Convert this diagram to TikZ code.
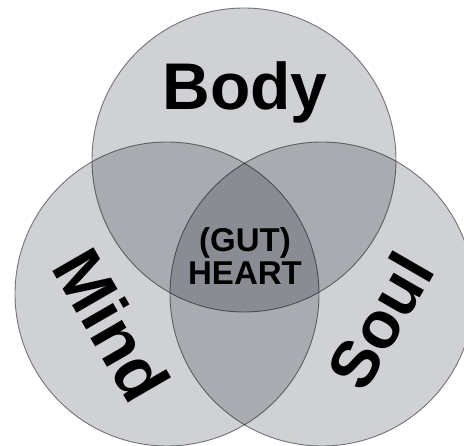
\documentclass[tikz,border=0pt]{standalone}
\usepackage{fontspec}
\setmainfont{Liberation Sans}
\usepackage{tikz}
\usetikzlibrary{positioning}
\usepackage{xcolor}
\definecolor{circfill}{RGB}{208,209,212}
\definecolor{circline}{RGB}{128,129,131}

\begin{document}
\begin{tikzpicture}[x=1pt, y=1pt,
    circ/.style={fill=circfill, draw=circline, line width=0.9pt},
    big/.style={font=\fontsize{66}{66}\selectfont\bfseries, inner sep=0pt},
    small/.style={font=\fontsize{33}{33}\selectfont\bfseries, inner sep=0pt, align=center}]

  % Frame of the picture
  \useasboundingbox (0,0) rectangle (464,446);
  \clip (0,0) rectangle (464,446);

  % Define centres of the circles
  \coordinate (cB) at (244, 286);
  \coordinate (cM) at (167, 152);
  \coordinate (cS) at (322, 152);

  % Draw the circles
  \begin{scope}[blend group=multiply]
    \draw[circ] (cB) circle (152);
    \draw[circ] (cM) circle (152);
    \draw[circ] (cS) circle (152);
  \end{scope}

  % Labels
  \node[big, anchor=base] (body) at (245, 336) {Body};
  \node[big, rotate=-60, font=\fontsize{69}{69}\selectfont\bfseries] (mind) at (112, 121) {Mind};
  \node[big, rotate=60] (soul) at (380, 125) {Soul};
  \node[small, anchor=base] (gut) at (245, 194) {(GUT)};
  \node[small, anchor=base] (heart) at (245, 161) {HEART};
\end{tikzpicture}
\end{document}
